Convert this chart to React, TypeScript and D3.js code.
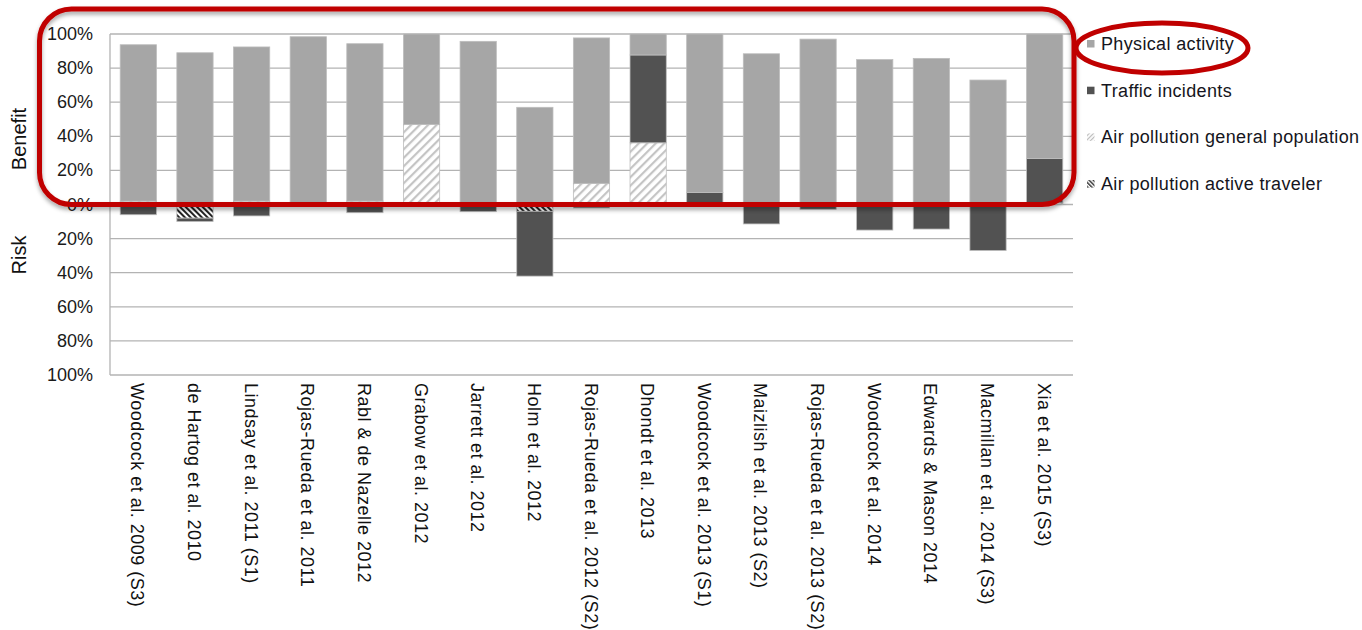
import React from "react";
import * as d3 from "d3";

const categories = [
  "Woodcock et al. 2009 (S3)",
  "de Hartog et al. 2010",
  "Lindsay et al. 2011 (S1)",
  "Rojas-Rueda et al. 2011",
  "Rabl & de Nazelle 2012",
  "Grabow et al. 2012",
  "Jarrett et al. 2012",
  "Holm et al. 2012",
  "Rojas-Rueda et al. 2012 (S2)",
  "Dhondt et al. 2013",
  "Woodcock et al. 2013 (S1)",
  "Maizlish et al. 2013 (S2)",
  "Rojas-Rueda et al. 2013 (S2)",
  "Woodcock et al. 2014",
  "Edwards & Mason 2014",
  "Macmillan et al. 2014 (S3)",
  "Xia et al. 2015 (S3)",
];

// benefit side (positive %)
const airPollutionGeneral = [2, 0, 2, 0, 2, 47, 0, 0, 12.4, 36.2, 0, 0, 0, 0, 0, 1, 1];
const trafficBenefit = [0, 0, 0, 0, 0, 0, 0, 0, 0, 51.5, 7, 0, 0, 0, 0, 0, 26];
const physicalActivity = [91.7, 89, 90.4, 98.4, 92.3, 53, 95.7, 57, 85.3, 12.3, 93, 88.4, 97, 85, 85.7, 72, 73];
// risk side (negative %)
const airPollutionActive = [0, -8, 0, 0, 0, 0, 0, -4, 0, 0, 0, 0, 0, 0, 0, 0, 0];
const trafficRisk = [-6, -2, -6.7, 0, -4.8, 0, -4.2, -38, -2, 0, 0, -11.4, -2.8, -15, -14.4, -27, 0];

const yTicks = [-100, -80, -60, -40, -20, 0, 20, 40, 60, 80, 100];
const legendItems = [
  { key: "pa", label: "Physical activity" },
  { key: "traffic", label: "Traffic incidents" },
  { key: "apg", label: "Air pollution general population" },
  { key: "apa", label: "Air pollution active traveler" },
];

const FONT = "'Liberation Sans', Arial, sans-serif";

export default function App() {
  const W = 1362;
  const H = 630;
  const left = 110, right = 1073, top = 34, bottom = 375;

  const x = d3.scaleBand<string>().domain(categories).range([left, right]).paddingInner(0.36).paddingOuter(0.18);
  const y = d3.scaleLinear().domain([-100, 100]).range([bottom, top]);

  const rows = categories.map((c, i) => ({
    cat: c,
    apg: airPollutionGeneral[i],
    apa: airPollutionActive[i],
    trafficB: trafficBenefit[i],
    trafficR: trafficRisk[i],
    pa: physicalActivity[i],
  }));
  const keys = ["apg", "apa", "trafficB", "trafficR", "pa"];
  const stack = d3.stack<any>().keys(keys).offset(d3.stackOffsetDiverging);
  const series = stack(rows);

  const fillFor = (k: string) => {
    if (k === "pa") return "#a6a6a6";
    if (k === "trafficB" || k === "trafficR") return "#525252";
    if (k === "apg") return "url(#patApg)";
    return "url(#patApa)";
  };

  const legendSwatch = (k: string) => {
    if (k === "pa") return "#a6a6a6";
    if (k === "traffic") return "#525252";
    if (k === "apg") return "url(#patApgL)";
    return "url(#patApaL)";
  };

  return (
    <svg width={W} height={H} style={{ position: "absolute", left: 0, top: 0, background: "#fff" }}>
      <defs>
        <pattern id="patApg" patternUnits="userSpaceOnUse" width="6" height="6" patternTransform="rotate(45)">
          <rect width="6" height="6" fill="#ffffff" />
          <rect x="0" y="0" width="2.2" height="6" fill="#c4c4c4" />
        </pattern>
        <pattern id="patApa" patternUnits="userSpaceOnUse" width="4" height="4" patternTransform="rotate(-45)">
          <rect width="4" height="4" fill="#ffffff" />
          <rect x="0" y="0" width="2" height="4" fill="#222" />
        </pattern>
        <pattern id="patApgL" patternUnits="userSpaceOnUse" width="3" height="3" patternTransform="rotate(45)">
          <rect width="3" height="3" fill="#ffffff" />
          <rect x="0" y="0" width="1.2" height="3" fill="#bbbbbb" />
        </pattern>
        <pattern id="patApaL" patternUnits="userSpaceOnUse" width="3" height="3" patternTransform="rotate(-45)">
          <rect width="3" height="3" fill="#ffffff" />
          <rect x="0" y="0" width="1.4" height="3" fill="#222" />
        </pattern>
        <filter id="shadow" x="-5%" y="-200%" width="110%" height="500%">
          <feDropShadow dx="0" dy="3" stdDeviation="2" floodColor="#000" floodOpacity="0.35" />
        </filter>
      </defs>

      {/* gridlines */}
      {yTicks.map((t) => (
        <line key={"g" + t} x1={left} x2={right} y1={y(t)} y2={y(t)} stroke="#b3b3b3" strokeWidth={1.3} />
      ))}
      <line x1={left} x2={left} y1={top} y2={bottom} stroke="#b3b3b3" strokeWidth={1.3} />

      {/* bars */}
      {series.map((s) => (
        <g key={s.key}>
          {s.map((d, i) => {
            const v0 = d[0], v1 = d[1];
            if (Math.abs(v1 - v0) < 1e-9) return null;
            const yy = y(Math.max(v0, v1));
            const hh = Math.abs(y(v0) - y(v1));
            return (
              <rect
                key={i}
                x={x(categories[i])}
                y={yy}
                width={x.bandwidth()}
                height={hh}
                fill={fillFor(s.key as string)}
                stroke="#bdbdbd"
                strokeWidth={0.8}
              />
            );
          })}
        </g>
      ))}

      {/* y tick labels */}
      {yTicks.map((t) => (
        <text key={"t" + t} x={93} y={y(t)} textAnchor="end" dominantBaseline="central" fontFamily={FONT} fontSize={18} fill="#1a1a1a">
          {Math.abs(t) + "%"}
        </text>
      ))}

      {/* axis titles */}
      <text transform="translate(19,139) rotate(-90)" textAnchor="middle" dominantBaseline="central" fontFamily={FONT} fontSize={20} fill="#111">
        Benefit
      </text>
      <text transform="translate(19,255) rotate(-90)" textAnchor="middle" dominantBaseline="central" fontFamily={FONT} fontSize={20} fill="#111">
        Risk
      </text>

      {/* x labels */}
      {categories.map((c) => (
        <text
          key={"x" + c}
          transform={`translate(${(x(c) as number) + x.bandwidth() / 2 - 1},383) rotate(90)`}
          textAnchor="start"
          dominantBaseline="central"
          fontFamily={FONT}
          fontSize={18}
          letterSpacing={0.5}
          fill="#111"
        >
          {c}
        </text>
      ))}

      {/* legend */}
      {legendItems.map((l, i) => {
        const cy = 44 + i * 46.7;
        return (
          <g key={l.key}>
            <rect x={1087} y={cy - 4} width={7.5} height={7.5} fill={legendSwatch(l.key)} />
            <text x={1101} y={cy} dominantBaseline="central" fontFamily={FONT} fontSize={18} letterSpacing={0.35} fill="#151520">
              {l.label}
            </text>
          </g>
        );
      })}

      {/* annotations */}
      <line x1={18} x2={1356} y1={205} y2={205} stroke="#3aa6dc" strokeWidth={4} filter="url(#shadow)" />
      <rect x={39.5} y={9} width={1034.5} height={195.5} rx={32} ry={32} fill="none" stroke="#c00000" strokeWidth={5} filter="url(#shadow)" />
      <ellipse cx={1162} cy={48} rx={86} ry={25} fill="none" stroke="#c00000" strokeWidth={5} />
    </svg>
  );
}
